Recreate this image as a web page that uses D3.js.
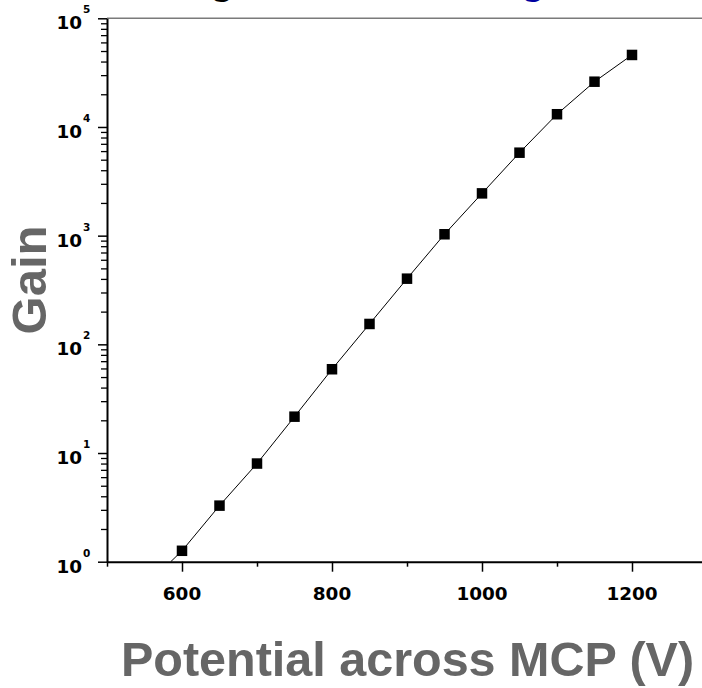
<!DOCTYPE html>
<html>
<head>
<meta charset="utf-8">
<script src="https://cdn.jsdelivr.net/npm/d3@7"></script>
<style>
  html, body { margin: 0; padding: 0; background: #fff; }
  svg { display: block; font-family: "Liberation Sans", Arial, sans-serif; }
  .tick-label { font-family: "DejaVu Sans", Verdana, sans-serif; font-weight: bold; }
</style>
</head>
<body>
<div id="chart"></div>
<script>
// MCP gain vs applied voltage
const voltages = [600, 650, 700, 750, 800, 850, 900, 950, 1000, 1050, 1100, 1150, 1200];
const gains = [1.26, 3.28, 8.0, 21.6, 59, 154, 402, 1030, 2450, 5800, 13100, 26100, 46000];
// fit line runs on below the first point down to the axis
const lineStart = { v: 585, gain: 1 };

const xMajorTicks = [600, 800, 1000, 1200];
const xMinorTicks = [500, 700, 900, 1100, 1300];
const yDecades = [0, 1, 2, 3, 4, 5];

const W = 702, H = 688;
const plotLeft = 107, plotTop = 18.3, plotBottom = 561.7;

const svg = d3.select("#chart").append("svg")
  .attr("width", W)
  .attr("height", H);

const x = d3.scaleLinear().domain([500, 1300]).range([plotLeft, plotLeft + 600]);
const y = d3.scaleLog().domain([1, 1e5]).range([plotBottom, plotTop]);

// cut-off title above the frame
svg.append("text").attr("x", 222).attr("y", -6)
  .attr("text-anchor", "middle").attr("font-size", 40).attr("font-weight", "bold")
  .attr("fill", "#000").text("g");
svg.append("text").attr("x", 533).attr("y", -6)
  .attr("text-anchor", "middle").attr("font-size", 40).attr("font-weight", "bold")
  .attr("fill", "#0000a0").text("g");

// top frame line (grey)
svg.append("line")
  .attr("x1", plotLeft).attr("x2", W)
  .attr("y1", plotTop).attr("y2", plotTop)
  .attr("stroke", "#7a7a7a").attr("stroke-width", 1.5);

// x axis
const xAxis = svg.append("g")
  .attr("transform", `translate(0,${plotBottom})`)
  .call(d3.axisBottom(x).tickValues(xMajorTicks).tickSize(10).tickSizeOuter(0).tickFormat(""));
xAxis.select(".domain").attr("stroke", "#000").attr("stroke-width", 2);
xAxis.selectAll(".tick line").attr("stroke-width", 1.5);

svg.append("g")
  .attr("transform", `translate(0,${plotBottom})`)
  .call(d3.axisBottom(x).tickValues(xMinorTicks).tickSize(5).tickFormat(""))
  .call(g => g.select(".domain").remove())
  .selectAll(".tick line").attr("stroke-width", 1.5);

svg.append("g").selectAll("text")
  .data(xMajorTicks)
  .join("text")
  .attr("class", "tick-label")
  .attr("x", d => x(d))
  .attr("y", plotBottom + 38.5)
  .attr("text-anchor", "middle")
  .attr("font-size", 18.4)
  .text(d => d);

// y axis
const yMinor = [];
for (let e = 0; e < 5; e++) {
  for (let m = 2; m <= 9; m++) yMinor.push(m * Math.pow(10, e));
}

const yAxis = svg.append("g")
  .attr("transform", `translate(${plotLeft},0)`)
  .call(d3.axisLeft(y).tickValues(yDecades.map(e => Math.pow(10, e))).tickSize(9).tickSizeOuter(0).tickFormat(""));
yAxis.select(".domain").attr("stroke", "#000").attr("stroke-width", 2);
yAxis.selectAll(".tick line").attr("stroke-width", 1.5);

svg.append("g")
  .attr("transform", `translate(${plotLeft},0)`)
  .call(d3.axisLeft(y).tickValues(yMinor).tickSize(6).tickFormat(""))
  .call(g => g.select(".domain").remove())
  .selectAll(".tick line").attr("stroke-width", 1.3);

const yLabels = svg.append("g").selectAll("g")
  .data(yDecades)
  .join("g")
  .attr("transform", e => `translate(0,${y(Math.pow(10, e))})`);
yLabels.append("text")
  .attr("class", "tick-label")
  .attr("x", 82).attr("y", 11)
  .attr("text-anchor", "end")
  .attr("font-size", 18.4)
  .text("10");
yLabels.append("text")
  .attr("class", "tick-label")
  .attr("x", 83).attr("y", -5)
  .attr("font-size", 10.5)
  .text(e => e);

// line + markers
const lineData = [lineStart].concat(voltages.map((v, i) => ({ v: v, gain: gains[i] })));
svg.append("path")
  .datum(lineData)
  .attr("fill", "none")
  .attr("stroke", "#000")
  .attr("stroke-width", 1)
  .attr("d", d3.line().x(d => x(d.v)).y(d => y(d.gain)));

const size = 10.5;
svg.append("g").selectAll("rect")
  .data(voltages)
  .join("rect")
  .attr("x", d => x(d) - size / 2)
  .attr("y", (d, i) => y(gains[i]) - size / 2)
  .attr("width", size)
  .attr("height", size)
  .attr("fill", "#000");

// axis titles
svg.append("text")
  .attr("transform", `translate(46,280) rotate(-90)`)
  .attr("text-anchor", "middle")
  .attr("font-size", 49).attr("font-weight", "bold")
  .attr("fill", "#666")
  .text("Gain");

svg.append("text")
  .attr("x", 407.5).attr("y", 676)
  .attr("text-anchor", "middle")
  .attr("font-size", 48.5).attr("font-weight", "bold")
  .attr("fill", "#666")
  .text("Potential across MCP (V)");
</script>
</body>
</html>
